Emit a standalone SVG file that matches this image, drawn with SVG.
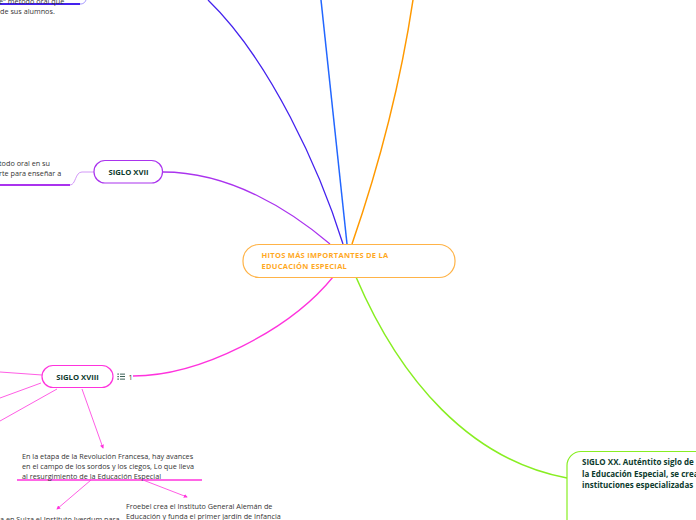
<svg xmlns="http://www.w3.org/2000/svg" width="696" height="520" viewBox="0 0 696 520">
<defs>
<style>
.t{font-family:"Open Sans","Noto Sans","DejaVu Sans",sans-serif;font-size:7.25px;fill:#333333}
.n{font-family:"Open Sans","Noto Sans","DejaVu Sans",sans-serif;font-size:7.7px;font-weight:bold;fill:#0D3B2E}
.c{font-family:"Open Sans","Noto Sans","DejaVu Sans",sans-serif;font-size:7.5px;font-weight:bold;fill:#FFA91F;letter-spacing:0.28px}
.x{font-family:"Open Sans","Noto Sans","DejaVu Sans",sans-serif;font-size:8px;font-weight:bold;fill:#0D3B2E}
.l{fill:none}
</style>
<marker id="am" viewBox="0 0 10 10" refX="8" refY="5" markerWidth="5" markerHeight="5" orient="auto"><path d="M0,0 L10,5 L0,10 z" fill="#FF33DD"/></marker>
</defs>
<rect width="696" height="520" fill="#ffffff"/>
<g id="connectors">
<path class="l" d="M163,172 C230,172 290,210 330,244" stroke="#AA33EE" stroke-width="1.3"/>
<path class="l" d="M208,0 C270,60 320,170 343,244" stroke="#4422EE" stroke-width="1.3"/>
<path class="l" d="M321,0 L347,244" stroke="#2266FF" stroke-width="1.5"/>
<path class="l" d="M413,0 Q395,120 352,244" stroke="#FF9900" stroke-width="1.5"/>
<path class="l" d="M333,277 C290,330 200,376 133,376" stroke="#FF33DD" stroke-width="1.3"/>
<path class="l" d="M356,277 C400,380 470,460 567,478" stroke="#88EE22" stroke-width="1.5"/>
<path class="l" d="M94,172 L82,172 C75,172 76,185 70,185" stroke="#C77DF5" stroke-width="0.8"/>
<path class="l" d="M0,185 L70,185" stroke="#AA33EE" stroke-width="1.8"/>
<path class="l" d="M80,4 C84,4 85,2 86,0" stroke="#8877FF" stroke-width="0.8"/>
<path class="l" d="M0,4 L80,4" stroke="#4422EE" stroke-width="1.8"/>
<path class="l" d="M42,375 L0,372" stroke="#FF33DD" stroke-width="0.8"/>
<path class="l" d="M41,383 L0,398" stroke="#FF33DD" stroke-width="0.8"/>
<path class="l" d="M57,389 L0,421" stroke="#FF33DD" stroke-width="0.8"/>
<path class="l" d="M82,389 L103,448" stroke="#FF33DD" stroke-width="0.8" marker-end="url(#am)"/>
<path class="l" d="M17,480 L202,480" stroke="#FF33DD" stroke-width="1.3"/>
<path class="l" d="M91,480 L57,509" stroke="#FF33DD" stroke-width="0.8" marker-end="url(#am)"/>
<path class="l" d="M143,480 L187,497" stroke="#FF33DD" stroke-width="0.8" marker-end="url(#am)"/>
</g>
<g id="central">
<rect x="243" y="244.5" width="212" height="33" rx="16" fill="#ffffff" stroke="#FFB347" stroke-width="1.2"/>
<text class="c" x="261.5" y="258">HITOS MÁS IMPORTANTES DE LA</text>
<text class="c" x="261.5" y="269">EDUCACIÓN ESPECIAL</text>
</g>
<g id="siglo-xvii">
<rect x="94" y="160.5" width="68.5" height="22.5" rx="11" fill="#ffffff" stroke="#AA33EE" stroke-width="1.2"/>
<text class="n" x="128.5" y="175" text-anchor="middle">SIGLO XVII</text>
</g>
<g id="texto-xvii">
<text class="t" x="-1" y="165.5">todo oral en su</text>
<text class="t" x="-1" y="176">rte para enseñar a</text>
</g>
<g id="texto-superior">
<text class="t" x="-1" y="3.5">e" método oral que</text>
<text class="t" x="0" y="14">de sus alumnos.</text>
</g>
<g id="siglo-xviii">
<rect x="42" y="365.5" width="71" height="22" rx="11" fill="#ffffff" stroke="#FF33DD" stroke-width="1.2"/>
<text class="n" x="77.5" y="379.5" text-anchor="middle">SIGLO XVIII</text>
<g fill="#0D3B2E">
<rect x="117.5" y="373.5" width="1.2" height="1.2"/>
<rect x="117.5" y="376" width="1.2" height="1.2"/>
<rect x="117.5" y="378.5" width="1.2" height="1.2"/>
<rect x="120" y="373.7" width="5" height="0.8"/>
<rect x="120" y="376.2" width="5" height="0.8"/>
<rect x="120" y="378.7" width="5" height="0.8"/>
</g>
<text class="t" x="128.5" y="379.5" fill="#0D3B2E">1</text>
</g>
<g id="revolucion">
<text class="t" x="22" y="458.5">En la etapa de la Revolución Francesa, hay avances</text>
<text class="t" x="22" y="468.5">en el campo de los sordos y los ciegos, Lo que lleva</text>
<text class="t" x="22" y="478.5">al resurgimiento de la Educación Especial</text>
</g>
<g id="froebel">
<text class="t" x="126" y="509">Froebel crea el Instituto General Alemán de</text>
<text class="t" x="126" y="519">Educación y funda el primer jardín de Infancia</text>
</g>
<g id="suiza">
<text class="t" x="0" y="522">a en Suiza el Instituto Iverdum para</text>
</g>
<g id="siglo-xx">
<rect x="567" y="451.5" width="160" height="90" rx="14" fill="#ffffff" stroke="#88EE22" stroke-width="1.2"/>
<text class="x" x="582" y="465">SIGLO XX. Auténtito siglo de</text>
<text class="x" x="582" y="476.5">la Educación Especial, se crea</text>
<text class="x" x="582" y="488">instituciones especializadas</text>
</g>
</svg>
